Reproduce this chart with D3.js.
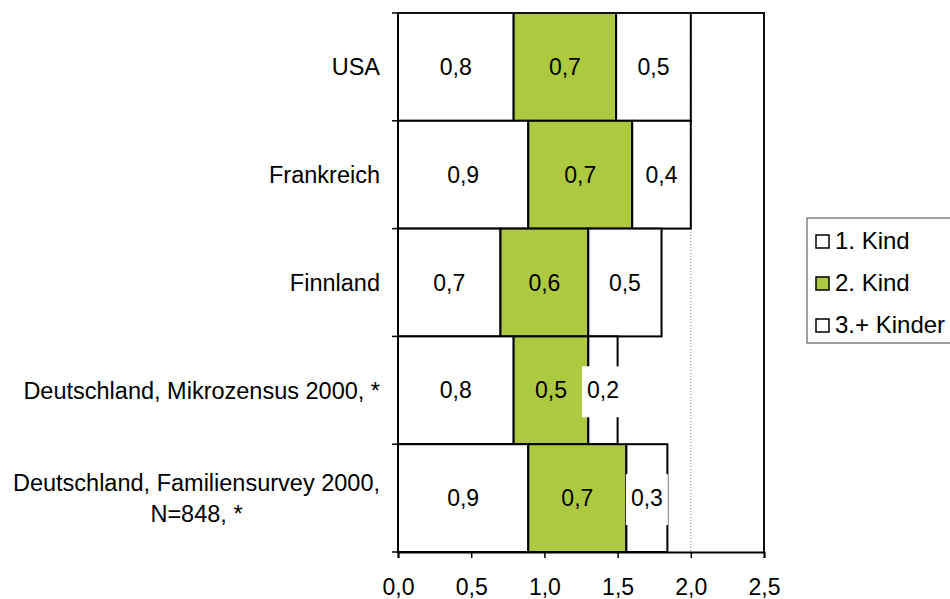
<!DOCTYPE html>
<html>
<head>
<meta charset="utf-8">
<script src="https://cdn.jsdelivr.net/npm/d3@7"></script>
<style>
  body { margin: 0; background: #fff; }
  svg { font-family: Arial, "Liberation Sans", sans-serif; }
</style>
</head>
<body>
<svg id="chart" width="950" height="599"></svg>
<script>
// data
const categories = [
  ['USA'],
  ['Frankreich'],
  ['Finnland'],
  ['Deutschland, Mikrozensus 2000, *'],
  ['Deutschland, Familiensurvey 2000,', 'N=848, *']
];
const seriesNames = ['1. Kind', '2. Kind', '3.+ Kinder'];
const kind1 = [0.79, 0.89, 0.70, 0.79, 0.89];
const kind2 = [0.70, 0.71, 0.60, 0.51, 0.67];
const kind3 = [0.51, 0.40, 0.50, 0.20, 0.28];
const xTicks = [0, 0.5, 1.0, 1.5, 2.0, 2.5];

const colors = ['#ffffff', '#adc93f', '#ffffff'];

const svg = d3.select('#chart');
const margin = { top: 13, right: 186, bottom: 47, left: 398 };
const width = 950 - margin.left - margin.right;
const height = 599 - margin.top - margin.bottom;
const g = svg.append('g').attr('transform', `translate(${margin.left},${margin.top})`);

const x = d3.scaleLinear().domain([0, 2.5]).range([0, width]);
const y = d3.scaleBand().domain(d3.range(categories.length)).range([0, height]).padding(0);

const fmt = v => d3.format('.1f')(v).replace('.', ',');

// dotted grid lines
g.append('g')
  .selectAll('line')
  .data(xTicks.slice(1, -1))
  .enter()
  .append('line')
  .attr('x1', d => x(d)).attr('x2', d => x(d))
  .attr('y1', 0).attr('y2', height)
  .attr('stroke', '#888')
  .attr('stroke-width', 1)
  .attr('stroke-dasharray', '1,2');

// stack
const rows = categories.map((c, i) => {
  const vals = [kind1[i], kind2[i], kind3[i]];
  let acc = 0;
  return vals.map((v, s) => {
    const seg = { row: i, s: s, v: v, x0: acc, x1: acc + v };
    acc += v;
    return seg;
  });
});
const segs = [].concat(...rows);

g.append('g')
  .selectAll('rect')
  .data(segs)
  .enter()
  .append('rect')
  .attr('x', d => x(d.x0))
  .attr('y', d => y(d.row))
  .attr('width', d => x(d.x1) - x(d.x0))
  .attr('height', y.bandwidth())
  .attr('fill', d => colors[d.s])
  .attr('stroke', '#000')
  .attr('stroke-width', 2);

// plot frame (top + right)
g.append('path')
  .attr('d', `M0,0H${width}V${height}`)
  .attr('fill', 'none')
  .attr('stroke', '#111')
  .attr('stroke-width', 2);

// value labels
const labels = g.append('g')
  .attr('font-size', 23)
  .attr('fill', '#000');

segs.forEach(d => {
  const cx = (x(d.x0) + x(d.x1)) / 2;
  const cy = y(d.row) + y.bandwidth() / 2;
  const t = labels.append('text')
    .attr('x', cx)
    .attr('y', cy)
    .attr('dy', '0.35em')
    .attr('text-anchor', 'middle')
    .text(fmt(d.v));
  if (d.s === 2) {
    const w = t.node().getComputedTextLength();
    labels.insert('rect', () => t.node())
      .attr('x', cx - w / 2 - 5)
      .attr('y', cy - 24)
      .attr('width', w + 10)
      .attr('height', 51)
      .attr('fill', '#fff');
  }
});

// x axis
const xAxis = g.append('g')
  .attr('transform', `translate(0,${height})`)
  .call(d3.axisBottom(x).tickValues(xTicks).tickSize(6).tickPadding(21).tickFormat(fmt));
xAxis.select('.domain').attr('stroke', '#000').attr('stroke-width', 2);
xAxis.selectAll('.tick line').attr('stroke', '#000').attr('stroke-width', 1.5);
xAxis.selectAll('text').attr('font-size', 23).attr('font-family', 'Arial, "Liberation Sans", sans-serif').attr('fill', '#000');

// y axis line with ticks at category boundaries
const bounds = y.domain().map(i => y(i)).concat([height]);
g.append('line')
  .attr('x1', 0).attr('x2', 0).attr('y1', 0).attr('y2', height)
  .attr('stroke', '#000').attr('stroke-width', 2);
g.append('g')
  .selectAll('line')
  .data(bounds)
  .enter()
  .append('line')
  .attr('x1', -6).attr('x2', 0)
  .attr('y1', d => d).attr('y2', d => d)
  .attr('stroke', '#000').attr('stroke-width', 1.5);

// category labels
const catG = g.append('g').attr('font-size', 23.5).attr('fill', '#000');
categories.forEach((lines, i) => {
  const cy = y(i) + y.bandwidth() / 2;
  const lh = 31;
  const t = catG.append('text').attr('text-anchor', 'end');
  lines.forEach((l, k) => {
    t.append('tspan')
      .attr('x', -18)
      .attr('y', cy + (k - (lines.length - 1) / 2) * lh)
      .attr('dy', '0.35em')
      .text(l);
  });
  if (lines.length > 1) {
    // centre the lines under each other, right edge of widest line at -18
    const widths = t.selectAll('tspan').nodes().map(n => n.getComputedTextLength());
    const maxW = d3.max(widths);
    t.attr('text-anchor', 'middle');
    t.selectAll('tspan').attr('x', -18 - maxW / 2);
  }
});

// legend
const legend = svg.append('g').attr('transform', 'translate(807,218)');
legend.append('rect')
  .attr('x', 0).attr('y', 0)
  .attr('width', 150).attr('height', 125)
  .attr('fill', '#fff')
  .attr('stroke', '#444')
  .attr('stroke-width', 1);
const item = legend.selectAll('.item')
  .data(seriesNames)
  .enter()
  .append('g')
  .attr('class', 'item')
  .attr('transform', (d, i) => `translate(9,${23 + i * 42})`);
item.append('rect')
  .attr('x', 0).attr('y', -6)
  .attr('width', 13).attr('height', 13)
  .attr('fill', (d, i) => colors[i])
  .attr('stroke', '#000')
  .attr('stroke-width', 1.5);
item.append('text')
  .attr('x', 19)
  .attr('dy', '0.35em')
  .attr('font-size', 24)
  .attr('fill', '#000')
  .text(d => d);
</script>
</body>
</html>
